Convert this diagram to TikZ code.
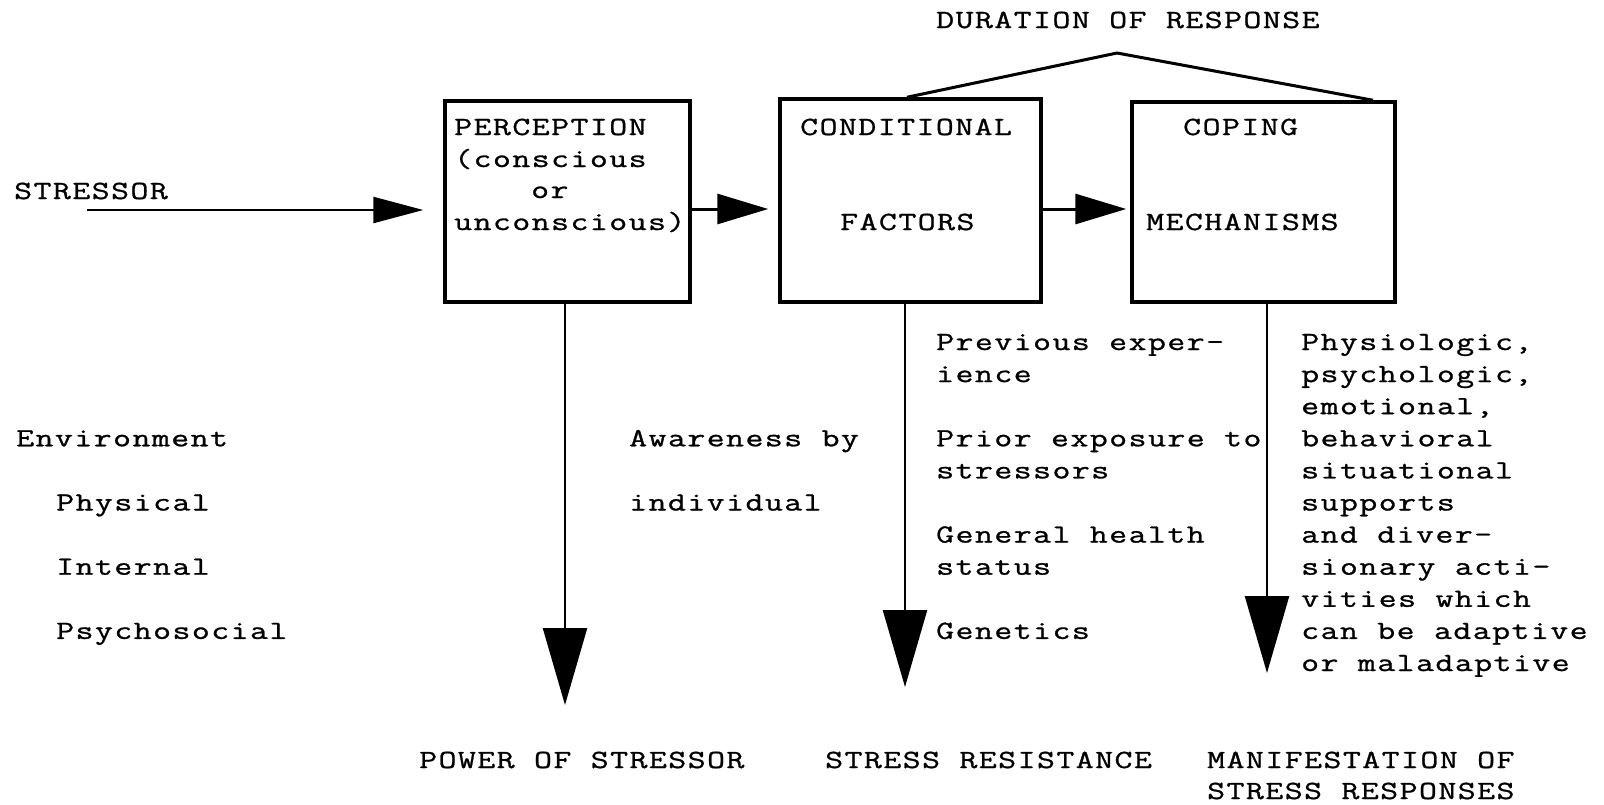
\documentclass[tikz,border=0pt]{standalone}
\usepackage{fontspec}
\setmainfont{Latin Modern Mono}[FakeStretch=1.33,LetterSpace=5.5,FakeBold=1.0]
\usetikzlibrary{arrows.meta}
\begin{document}
\begin{tikzpicture}[x=1pt,y=-1pt,
  txt/.style={anchor=base west,inner sep=0pt,font=\fontsize{26.2}{32}\selectfont},
  box/.style={draw,line width=3.5pt,inner sep=0pt},
  harrow/.style={line width=3pt,-{Triangle[length=51pt,width=30pt]}},
  sarrow/.style={line width=2.5pt,-{Triangle[length=50pt,width=26pt]}},
  varrow/.style={line width=2.5pt,-{Triangle[length=77pt,width=44pt]}},
  bracket/.style={line width=3pt,line join=miter}]
\useasboundingbox (0,0) rectangle (1604,804);
% boxes
\node[box,minimum width=245pt,minimum height=201pt] (perc) at (567.5,201.5) {};
\node[box,minimum width=261pt,minimum height=203pt] (cond) at (910.5,200.5) {};
\node[box,minimum width=263pt,minimum height=200pt] (cope) at (1263.5,202) {};
% box texts
\node[txt] (pt1) at (454,135) {PERCEPTION};
\node[txt] (pt2) at (454,167) {(conscious};
\node[txt] (pt3) at (531,198) {or};
\node[txt] (pt4) at (454,230) {unconscious)};
\node[txt] (ct1) at (800,135) {CONDITIONAL};
\node[txt] (ct2) at (840,230) {FACTORS};
\node[txt] (mt1) at (1183,135) {COPING};
\node[txt] (mt2) at (1146,230) {MECHANISMS};
% stressor
\node[txt] (str) at (14,199) {STRESSOR};
\coordinate (s0) at (87,210);
\draw[sarrow,shorten >=20pt] (s0) -- (perc.west |- s0);
% horizontal arrows
\coordinate (h) at (0,209);
\draw[harrow,shorten >=10pt] (perc.east |- h) -- (cond.west |- h);
\draw[harrow,shorten >=4pt] (cond.east |- h) -- (cope.west |- h);
% duration
\node[txt] (dur) at (936,28) {DURATION OF RESPONSE};
\coordinate (d1) at (907,0);
\coordinate (apex) at (1117,53);
\coordinate (d2) at (1373,0);
\draw[bracket] (cond.north -| d1) -- (apex) -- (cope.north -| d2);
% down arrows
\coordinate (p1) at (565,705);
\coordinate (c1) at (905,687);
\coordinate (m1) at (1267,673);
\draw[varrow] (perc.south -| p1) -- (p1);
\draw[varrow] (cond.south -| c1) -- (c1);
\draw[varrow] (cope.south -| m1) -- (m1);
% left texts
\node[txt] (env) at (16,446.3) {Environment};
\node[txt] (phy) at (56,510.5) {Physical};
\node[txt] (int) at (56,574.7) {Internal};
\node[txt] (psy) at (56,638.9) {Psychosocial};
\node[txt] (aw1) at (629,446.3) {Awareness by};
\node[txt] (aw2) at (629,510.5) {individual};
% conditional factors list
\foreach \k/\t [count=\i] in {0/{Previous exper-},1/{ience},3/{Prior exposure to},4/{stressors},6/{General health},7/{status},9/{Genetics}}
  \node[txt] (cf\i) at (936,350+32.1*\k) {\t};
% coping list
\foreach \t [count=\i from 0] in {{Physiologic,},{psychologic,},{emotional,},{behavioral},{situational},{supports},{and diver-},{sionary acti-},{vities which},{can be adaptive},{or maladaptive}}
  \node[txt] (cm\i) at (1301,350+32.1*\i) {\t};
% bottom labels
\node[txt] (pow) at (419,768) {POWER OF STRESSOR};
\node[txt] (res) at (825,768) {STRESS RESISTANCE};
\node[txt] (man1) at (1207,768) {MANIFESTATION OF};
\node[txt] (man2) at (1207,799) {STRESS RESPONSES};
\end{tikzpicture}
\end{document}
